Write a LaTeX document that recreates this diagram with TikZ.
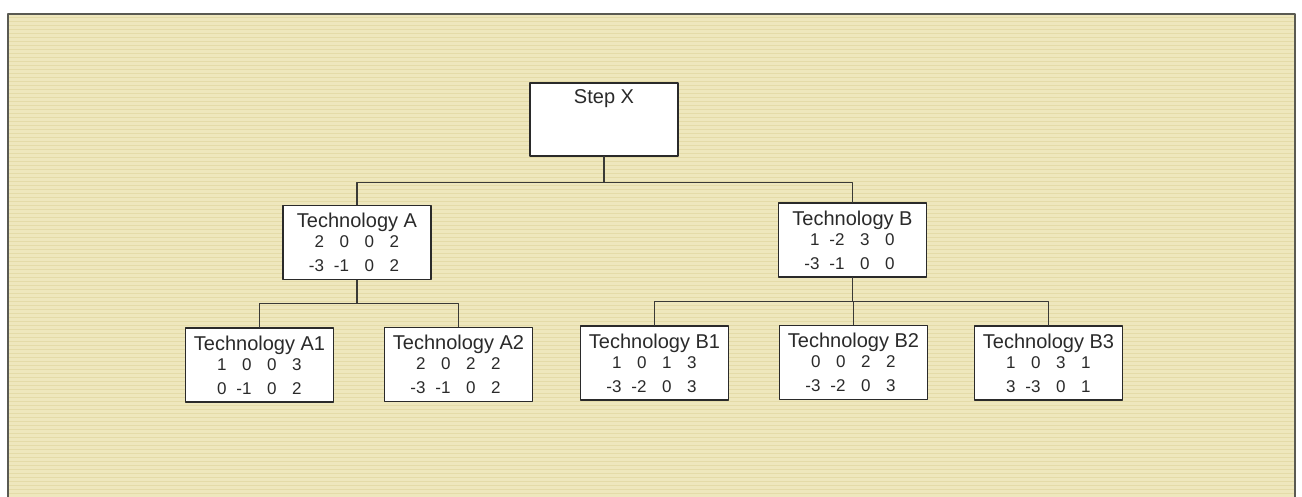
\documentclass[tikz,border=0pt]{standalone}
\usepackage{fontspec}
\setmainfont{Liberation Sans}
\usetikzlibrary{positioning}
\definecolor{techPaper}{HTML}{EEE7BD}
\definecolor{techGrain}{HTML}{E4DBA8}
\definecolor{techInk}{HTML}{2A2A2A}
\definecolor{techLine}{HTML}{3A3A36}
\definecolor{techFrame}{HTML}{5A5A52}
\newcommand\numcell[1]{\makebox[25pt][r]{#1\hspace{8pt}}}
\newcommand\numrow[4]{\numcell{#1}\numcell{#2}\numcell{#3}\numcell{#4}}

\begin{document}
\begin{tikzpicture}[x=1pt,y=-1pt,line cap=round,line join=round]
\useasboundingbox (0,0) rectangle (1302,497);
\path[fill=white] (0,0) rectangle (1302,497);
\path[fill=techPaper] (8,14) rectangle (1295,497);
\foreach \yy in {17,21,...,495} {\draw[techGrain,line width=0.9pt] (9,\yy) -- (1294,\yy);}
\draw[techFrame,line width=1.5pt] (8,497) -- (8,14) -- (1295,14) -- (1295,497);
\tikzset{techbox/.style={draw=techInk,fill=white,line width=1.6pt,minimum width=148pt,minimum height=74pt,inner sep=2pt,align=center,text=techInk,font=\fontsize{17}{20}\selectfont},stepbox/.style={draw=techInk,fill=white,line width=1.6pt,minimum width=148pt,inner xsep=2pt,inner ysep=0pt,text height=21pt,text depth=52pt,text=techInk,font=\fontsize{20}{22}\selectfont},link/.style={draw=techLine,line width=1.4pt}}
\node[stepbox,anchor=north] (stepx) at (604,82) {Step X};
\node[techbox] (techA) at (357,242.5) {{\fontsize{20}{20}\selectfont Technology A}\\ \numrow{2}{0}{0}{2}\\[4pt] \numrow{-3}{-1}{0}{2}};
\node[techbox] (techB) at (852.5,240) {{\fontsize{20}{20}\selectfont Technology B}\\ \numrow{1}{-2}{3}{0}\\[4pt] \numrow{-3}{-1}{0}{0}};
\node[techbox] (techAone) at (259.5,365) {{\fontsize{20}{20}\selectfont Technology A1}\\ \numrow{1}{0}{0}{3}\\[4pt] \numrow{0}{-1}{0}{2}};
\node[techbox] (techAtwo) at (458.5,364.5) {{\fontsize{20}{20}\selectfont Technology A2}\\ \numrow{2}{0}{2}{2}\\[4pt] \numrow{-3}{-1}{0}{2}};
\node[techbox] (techBone) at (654.5,363) {{\fontsize{20}{20}\selectfont Technology B1}\\ \numrow{1}{0}{1}{3}\\[4pt] \numrow{-3}{-2}{0}{3}};
\node[techbox] (techBtwo) at (853.5,362.5) {{\fontsize{20}{20}\selectfont Technology B2}\\ \numrow{0}{0}{2}{2}\\[4pt] \numrow{-3}{-2}{0}{3}};
\node[techbox] (techBthree) at (1048.5,363) {{\fontsize{20}{20}\selectfont Technology B3}\\ \numrow{1}{0}{3}{1}\\[4pt] \numrow{3}{-3}{0}{1}};
% tree links
\draw[link] (stepx.south) -- ++(0,26) -| (techA.north);
\draw[link] (stepx.south) -- ++(0,26) -| (techB.north);
\draw[link] (techA.south) -- ++(0,23) -| (techAone.north);
\draw[link] (techA.south) -- ++(0,23) -| (techAtwo.north);
\draw[link] (techB.south) -- ++(0,24) -| (techBone.north);
\draw[link] (techB.south) -- ++(0,24) -| (techBtwo.north);
\draw[link] (techB.south) -- ++(0,24) -| (techBthree.north);
\end{tikzpicture}
\end{document}
